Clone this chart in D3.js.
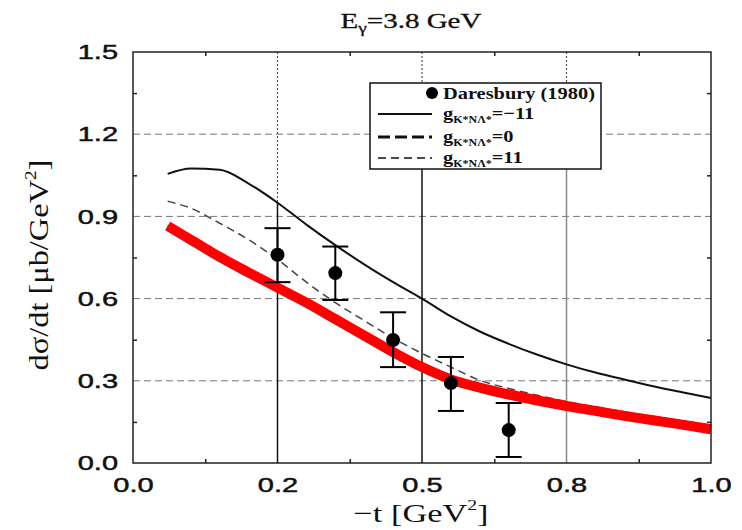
<!DOCTYPE html>
<html lang="en">
<head>
<meta charset="UTF-8">
<title>E_gamma = 3.8 GeV</title>
<script src="https://d3js.org/d3.v7.min.js"></script>
<style>
    body { margin: 0; background: #fff; }
    .serif { font-family: "Liberation Serif", "Times New Roman", serif; }
    .tick text { font-family: "Liberation Sans", Arial, sans-serif; font-size: 21px; fill: #111; stroke: #111; stroke-width: 0.5px; }
</style>
</head>
<body>
<script>
    // data
    let tGrid = [0.06, 0.1, 0.15, 0.2, 0.25, 0.3, 0.35, 0.4, 0.45, 0.5, 0.55, 0.6, 0.65, 0.7, 0.75, 0.8, 0.85, 0.9, 0.95, 1.0];
    let gMinus11 = [1.055, 1.075, 1.07, 1.02, 0.95, 0.87, 0.795, 0.725, 0.66, 0.6, 0.535, 0.48, 0.435, 0.395, 0.36, 0.33, 0.305, 0.28, 0.258, 0.237];
    let gPlus11 = [0.955, 0.93, 0.875, 0.815, 0.743, 0.66, 0.585, 0.52, 0.455, 0.4, 0.35, 0.302, 0.272, 0.247, 0.224, 0.205, 0.187, 0.17, 0.154, 0.138];
    let gZero = [0.865, 0.815, 0.752, 0.695, 0.64, 0.585, 0.525, 0.465, 0.405, 0.35, 0.305, 0.275, 0.25, 0.228, 0.208, 0.19, 0.172, 0.156, 0.14, 0.123];

    let dataT = [0.25, 0.35, 0.45, 0.55, 0.65];
    let dataY = [0.76, 0.693, 0.449, 0.292, 0.12];
    let dataLo = [0.66, 0.595, 0.35, 0.19, 0.022];
    let dataHi = [0.857, 0.79, 0.55, 0.387, 0.219];

    let xMajor = [0, 0.25, 0.5, 0.75, 1.0];
    let xLabels = ["0.0", "0.2", "0.5", "0.8", "1.0"];
    let xMinor = [0.125, 0.375, 0.625, 0.875];
    let yMajor = [0, 0.3, 0.6, 0.9, 1.2, 1.5];
    let yMinor = [0.15, 0.45, 0.75, 1.05, 1.35];

    let width = 742, height = 530;
    let margin = {top: 52, right: 31, bottom: 67, left: 133};

    let svg = d3.select("body").append("svg")
        .attr("width", width)
        .attr("height", height);

    let x = d3.scaleLinear().domain([0, 1]).range([margin.left, width - margin.right]);
    let y = d3.scaleLinear().domain([0, 1.5]).range([height - margin.bottom, margin.top]);

    // the source picture is stretched sideways, so its text is wide
    function stretch(sel, k) {
        sel.each(function() {
            let el = d3.select(this);
            let cx = +el.attr("x") || 0;
            el.attr("transform", `translate(${cx * (1 - k)},0) scale(${k},1)`);
        });
    }

    // horizontal dashed grid
    svg.append("g")
        .selectAll("line")
        .data(yMajor.slice(1, -1))
        .enter().append("line")
        .attr("x1", x(0)).attr("x2", x(1))
        .attr("y1", d => y(d)).attr("y2", d => y(d))
        .attr("stroke", "#777")
        .attr("stroke-width", 1)
        .attr("stroke-dasharray", "7,4");

    // vertical grid: dotted on top, solid below
    let vGrid = [
        {t: 0.25, solidFrom: 0.95, color: "#111"},
        {t: 0.5, solidFrom: 1.07, color: "#111"},
        {t: 0.75, solidFrom: 1.07, color: "#888"}
    ];
    svg.append("g")
        .selectAll("line")
        .data(vGrid)
        .enter().append("line")
        .attr("x1", d => x(d.t)).attr("x2", d => x(d.t))
        .attr("y1", y(1.5)).attr("y2", d => y(d.solidFrom))
        .attr("stroke", "#555")
        .attr("stroke-width", 1.2)
        .attr("stroke-dasharray", "2,2");
    svg.append("g")
        .selectAll("line")
        .data(vGrid)
        .enter().append("line")
        .attr("x1", d => x(d.t)).attr("x2", d => x(d.t))
        .attr("y1", d => y(d.solidFrom)).attr("y2", y(0))
        .attr("stroke", d => d.color)
        .attr("stroke-width", 1.5);

    // legend box (drawn before curves, covers grid)
    let lg = svg.append("g");
    lg.append("rect")
        .attr("x", 370).attr("y", 83)
        .attr("width", 231).attr("height", 86)
        .attr("fill", "#fff")
        .attr("stroke", "#111")
        .attr("stroke-width", 1.5);

    // curves
    let line = d3.line()
        .x((d, i) => x(tGrid[i]))
        .y(d => y(d))
        .curve(d3.curveMonotoneX);

    svg.append("path").datum(gZero)
        .attr("d", line)
        .attr("fill", "none")
        .attr("stroke", "#111")
        .attr("stroke-width", 3)
        .attr("stroke-dasharray", "12,5");

    svg.append("path").datum(gPlus11)
        .attr("d", line)
        .attr("fill", "none")
        .attr("stroke", "#444")
        .attr("stroke-width", 1.5)
        .attr("stroke-dasharray", "8,5");

    svg.append("path").datum(gMinus11)
        .attr("d", line)
        .attr("fill", "none")
        .attr("stroke", "#111")
        .attr("stroke-width", 2);

    svg.append("path").datum(gZero)
        .attr("d", line)
        .attr("fill", "none")
        .attr("stroke", "#ff0000")
        .attr("stroke-width", 10);

    // data points with error bars
    let pts = svg.append("g")
        .selectAll("g")
        .data(dataT)
        .enter().append("g");
    pts.append("line")
        .attr("x1", d => x(d)).attr("x2", d => x(d))
        .attr("y1", (d, i) => y(dataLo[i])).attr("y2", (d, i) => y(dataHi[i]))
        .attr("stroke", "#000").attr("stroke-width", 2);
    pts.append("line")
        .attr("x1", d => x(d) - 13).attr("x2", d => x(d) + 13)
        .attr("y1", (d, i) => y(dataLo[i])).attr("y2", (d, i) => y(dataLo[i]))
        .attr("stroke", "#000").attr("stroke-width", 2);
    pts.append("line")
        .attr("x1", d => x(d) - 13).attr("x2", d => x(d) + 13)
        .attr("y1", (d, i) => y(dataHi[i])).attr("y2", (d, i) => y(dataHi[i]))
        .attr("stroke", "#000").attr("stroke-width", 2);
    pts.append("circle")
        .attr("cx", d => x(d))
        .attr("cy", (d, i) => y(dataY[i]))
        .attr("r", 7)
        .attr("fill", "#000");

    // frame
    svg.append("rect")
        .attr("x", x(0)).attr("y", y(1.5))
        .attr("width", x(1) - x(0)).attr("height", y(0) - y(1.5))
        .attr("fill", "none")
        .attr("stroke", "#222")
        .attr("stroke-width", 1.5);

    // inward ticks
    let tickStyle = g => g.call(s => s.select(".domain").remove())
        .selectAll(".tick line").attr("stroke", "#222").attr("stroke-width", 1.5);
    svg.append("g").attr("transform", `translate(0,${y(0)})`)
        .call(d3.axisBottom(x).tickValues(xMinor).tickSize(-4).tickFormat(""))
        .call(tickStyle);
    svg.append("g").attr("transform", `translate(0,${y(1.5)})`)
        .call(d3.axisTop(x).tickValues(xMinor).tickSize(-4).tickFormat(""))
        .call(tickStyle);
    svg.append("g").attr("transform", `translate(${x(0)},0)`)
        .call(d3.axisLeft(y).tickValues(yMinor).tickSize(-4).tickFormat(""))
        .call(tickStyle);
    svg.append("g").attr("transform", `translate(${x(1)},0)`)
        .call(d3.axisRight(y).tickValues(yMinor).tickSize(-4).tickFormat(""))
        .call(tickStyle);

    // tick labels
    svg.append("g").attr("transform", `translate(0,${y(0)})`)
        .call(d3.axisBottom(x).tickValues(xMajor).tickSize(0).tickPadding(14)
            .tickFormat((d, i) => xLabels[i]))
        .call(g => g.select(".domain").remove())
        .call(g => stretch(g.selectAll(".tick text"), 1.38));
    svg.append("g").attr("transform", `translate(${x(0)},0)`)
        .call(d3.axisLeft(y).tickValues(yMajor).tickSize(0).tickPadding(15)
            .tickFormat(d3.format(".1f")))
        .call(g => g.select(".domain").remove())
        .call(g => stretch(g.selectAll(".tick text"), 1.38));

    // title
    let title = svg.append("text").attr("class", "serif")
        .attr("x", 411).attr("y", 28)
        .attr("text-anchor", "middle")
        .attr("font-size", 21)
        .attr("fill", "#111")
        .attr("stroke", "#111").attr("stroke-width", 0.3);
    title.append("tspan").text("E");
    title.append("tspan").attr("font-size", 14).attr("dy", 5).text("γ");
    title.append("tspan").attr("dy", -5).text("=3.8 GeV");
    stretch(title, 1.38);

    // axis labels
    let xl = svg.append("text").attr("class", "serif")
        .attr("x", 421).attr("y", 522)
        .attr("text-anchor", "middle")
        .attr("font-size", 26)
        .attr("fill", "#111");
    xl.append("tspan").text("−t [GeV");
    xl.append("tspan").attr("font-size", 15).attr("dy", -12).text("2");
    xl.append("tspan").attr("dy", 12).text("]");
    stretch(xl, 1.32);

    let yl = svg.append("text").attr("class", "serif")
        .attr("transform", "translate(48,265) rotate(-90) scale(1.2,1)")
        .attr("text-anchor", "middle")
        .attr("font-size", 27)
        .attr("fill", "#111");
    yl.append("tspan").text("dσ/dt [μb/GeV");
    yl.append("tspan").attr("font-size", 16).attr("dy", -12).text("2");
    yl.append("tspan").attr("dy", 12).text("]");

    // legend entries
    lg.append("circle").attr("cx", 432).attr("cy", 93).attr("r", 6).attr("fill", "#000");
    let lt = lg.append("text").attr("class", "serif")
        .attr("x", 443).attr("y", 99)
        .attr("font-size", 17).attr("font-weight", "bold").attr("fill", "#111")
        .text("Daresbury (1980)");
    stretch(lt, 1.2);

    let legendRows = [
        {y: 114, w: 2, dash: null, label: "=−11"},
        {y: 137, w: 3.2, dash: "12,5", label: "=0"},
        {y: 158, w: 1.5, dash: "8,5", label: "=11"}
    ];
    legendRows.forEach(r => {
        lg.append("line")
            .attr("x1", 378).attr("x2", 432)
            .attr("y1", r.y).attr("y2", r.y)
            .attr("stroke", "#111")
            .attr("stroke-width", r.w)
            .attr("stroke-dasharray", r.dash);
        let t = lg.append("text").attr("class", "serif")
            .attr("x", 443).attr("y", r.y + 5)
            .attr("font-size", 17).attr("font-weight", "bold").attr("fill", "#111");
        t.append("tspan").text("g");
        t.append("tspan").attr("font-size", 10).attr("dy", 4).text("K*NΛ*");
        t.append("tspan").attr("dy", -4).text(r.label);
        stretch(t, 1.2);
    });
</script>
</body>
</html>
